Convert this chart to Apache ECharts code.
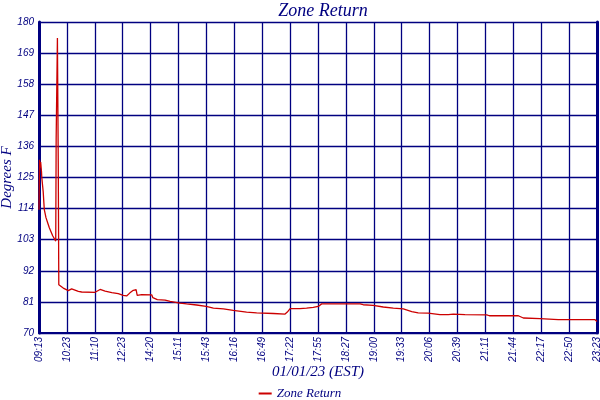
<!DOCTYPE html>
<html>
<head>
<meta charset="utf-8">
<title>Zone Return</title>
<script src="https://cdn.jsdelivr.net/npm/echarts@6/dist/echarts.min.js"></script>
<style>
  html, body { margin: 0; padding: 0; background: #fff; }
  #chart { width: 600px; height: 400px; }
</style>
</head>
<body>
<div id="chart"></div>
<script>
  // tick labels along the bottom (evenly spaced slots)
  var timeLabels = ['09:13', '10:23', '11:10', '12:23', '14:20', '15:11', '15:43', '16:16', '16:49', '17:22',
                    '17:55', '18:27', '19:00', '19:33', '20:06', '20:39', '21:11', '21:44', '22:17', '22:50', '23:23'];
  var yTicks = [70, 81, 92, 103, 114, 125, 136, 147, 158, 169, 180];

  // sample position (in label slots) and temperature
  var samplePos = [0, 0.02, 0.04, 0.06, 0.09, 0.1, 0.15, 0.19, 0.25, 0.31, 0.37, 0.43, 0.49, 0.55, 0.6,
                   0.615, 0.66, 0.69, 0.71, 0.87, 1.05, 1.17, 1.23, 1.41, 1.53, 2.01, 2.08, 2.19, 2.37, 2.61,
                   2.84, 3.02, 3.14, 3.26, 3.38, 3.48, 3.52, 3.68, 4.04, 4.08, 4.24, 4.52, 4.7, 5.05, 5.29,
                   5.65, 5.99, 6.25, 6.61, 6.96, 7.44, 7.8, 8.4, 8.82, 8.9, 9.0, 9.35, 9.59, 9.83, 10.01,
                   10.13, 11.51, 11.62, 11.98, 12.34, 12.7, 13.06, 13.36, 13.59, 13.95, 14.37, 14.67, 14.73, 14.85, 15.27,
                   16.05, 16.14, 17.18, 17.36, 17.96, 18.61, 19.93, 20];
  var zoneReturn = [113.6, 131.3, 128.5, 130.5, 127, 125, 120, 113.6, 110.8, 109, 107.2, 105.8, 104.4, 103.7, 102.5,
                    138.4, 174.3, 130.7, 87.1, 85.9, 85, 85.6, 85.7, 84.7, 84.5, 84.4, 84.2, 85.4, 84.8, 84.3,
                    83.9, 83.3, 83.1, 84.2, 85.1, 85.3, 83.3, 83.6, 83.5, 82.5, 81.8, 81.6, 81.2, 80.6, 80.3,
                    79.9, 79.4, 78.8, 78.5, 78, 77.4, 77.1, 76.9, 76.7, 77.4, 78.6, 78.6, 78.8, 79.1, 79.4,
                    80.3, 80.3, 80.0, 79.8, 79.2, 78.8, 78.5, 77.6, 77.1, 77, 76.5, 76.5, 76.1, 76.7, 76.5,
                    76.4, 76.1, 76.1, 75.3, 75.1, 74.7, 74.7, 74.1];

  var navy = '#000080';
  var points = samplePos.map(function (p, i) { return [p, zoneReturn[i]]; });

  var chart = echarts.init(document.getElementById('chart'));
  chart.setOption({
    animation: false,
    title: {
      text: 'Zone Return',
      left: 318,
      textAlign: 'center',
      top: -3,
      textStyle: { color: navy, fontFamily: 'Liberation Serif', fontStyle: 'italic', fontWeight: 'normal', fontSize: 18 }
    },
    legend: {
      data: ['Zone Return'],
      top: 382,
      left: 'center',
      icon: 'rect',
      itemWidth: 13,
      itemHeight: 2,
      itemGap: 4,
      textStyle: { color: navy, fontFamily: 'Liberation Serif', fontStyle: 'italic', fontSize: 13 }
    },
    grid: { left: 39, right: 3, top: 22, bottom: 67, containLabel: false, outerBoundsMode: 'none' },
    xAxis: {
      type: 'value',
      min: 0,
      max: 20,
      interval: 1,
      name: '01/01/23 (EST)',
      nameLocation: 'middle',
      nameGap: 32,
      nameMoveOverlap: false,
      nameTextStyle: { color: navy, fontFamily: 'Liberation Serif', fontStyle: 'italic', fontSize: 15 },
      axisLine: { lineStyle: { color: navy, width: 2 } },
      axisTick: { show: false },
      axisLabel: {
        rotate: 90,
        margin: 4,
        color: navy,
        fontFamily: 'Liberation Sans',
        fontStyle: 'italic',
        fontSize: 10,
        showMinLabel: true,
        showMaxLabel: true,
        formatter: function (v) { return timeLabels[Math.round(v)] || ''; }
      },
      splitLine: { show: true, lineStyle: { color: navy, width: 1.3 } }
    },
    yAxis: [{
      type: 'value',
      min: 70,
      max: 180,
      interval: 11,
      name: 'Degrees F',
      nameLocation: 'middle',
      nameGap: 24,
      nameRotate: 90,
      nameMoveOverlap: false,
      nameTextStyle: { color: navy, fontFamily: 'Liberation Serif', fontStyle: 'italic', fontSize: 15 },
      axisLine: { show: true, lineStyle: { color: navy, width: 3 } },
      axisTick: { show: false },
      axisLabel: {
        margin: 5,
        color: navy,
        fontFamily: 'Liberation Sans',
        fontStyle: 'italic',
        fontSize: 10,
        formatter: function (v) { return yTicks.indexOf(Math.round(v)) >= 0 ? String(Math.round(v)) : ''; }
      },
      splitLine: { show: true, lineStyle: { color: navy, width: 1.3 } }
    }, {
      type: 'value',
      position: 'right',
      min: 70,
      max: 180,
      interval: 11,
      axisLine: { show: true, lineStyle: { color: navy, width: 3 } },
      axisTick: { show: false },
      axisLabel: { show: false },
      splitLine: { show: false }
    }],
    series: [{
      name: 'Zone Return',
      type: 'line',
      data: points,
      showSymbol: false,
      symbol: 'none',
      color: '#cc0000',
      lineStyle: { color: '#cc0000', width: 1.3 }
    }]
  });
</script>
</body>
</html>
